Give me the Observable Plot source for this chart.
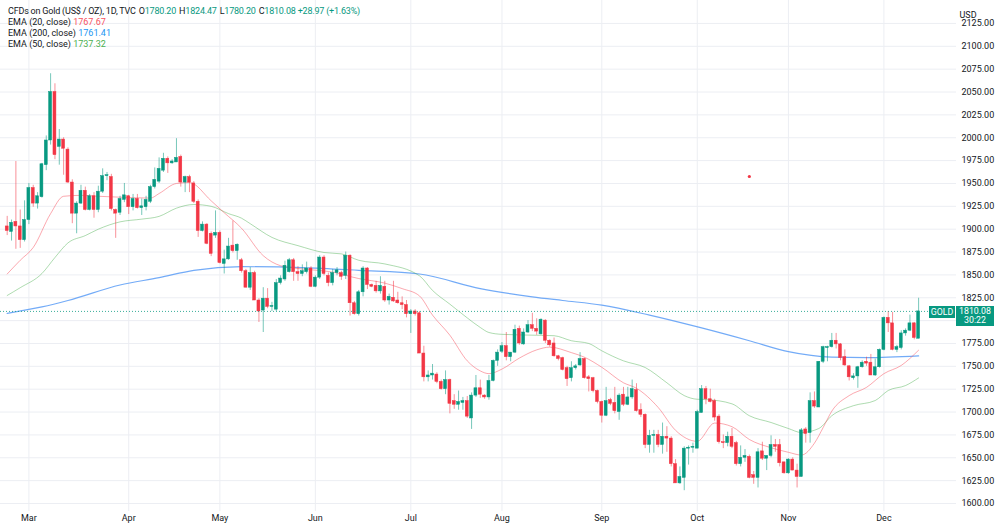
<!DOCTYPE html>
<html>
<head>
<meta charset="utf-8">
<script src="https://cdn.jsdelivr.net/npm/d3@7"></script>
<script src="https://cdn.jsdelivr.net/npm/@observablehq/plot@0.6"></script>
<style>
html,body{margin:0;padding:0;background:#fff;}
#wrap{position:relative;width:1000px;height:532px;overflow:hidden;font-family:Roboto,"Noto Sans",sans-serif;}
.lg{position:absolute;left:8px;font-size:9px;line-height:11px;color:#131722;white-space:pre;}
.lg.t{letter-spacing:-0.2px}
.lg .k{margin-left:3px}
.up{color:#089981}
.box{position:absolute;background:#089981;color:#fff;font-size:8.8px;text-align:center;}
</style>
</head>
<body>
<div id="wrap"></div>
<script>
// ---- data ----
const startDate = "2022-02-22";
const endDate = "2022-12-13";
// [open, high, low, close] for each trading day (weekdays) from startDate to endDate
const candles = [
[1903,1914,1893,1898],[1897,1910,1887,1907],[1908,1974,1878,1903],[1903,1921,1879,1888],[1888,1931,1886,1910],
[1910,1950,1905,1945],[1945,1948,1924,1928],[1928,1940,1922,1936],[1935,1972,1934,1971],[1970,2002,1964,1997],
[1997,2070,1992,2050],[2050,2059,1976,1981],[1990,2009,1970,1998],[1998,2000,1959,1988],[1987,1989,1950,1951],
[1951,1954,1906,1917],[1917,1930,1895,1928],[1928,1948,1927,1942],[1942,1946,1920,1921],[1921,1938,1920,1936],
[1936,1940,1912,1921],[1921,1947,1918,1941],[1941,1966,1939,1958],[1958,1962,1953,1959],[1957,1960,1920,1922],
[1921,1922,1890,1917],[1918,1936,1915,1933],[1932,1950,1929,1937],[1936,1937,1916,1924],[1924,1938,1920,1933],
[1933,1938,1922,1923],[1923,1933,1915,1925],[1924,1936,1920,1932],[1930,1948,1928,1946],[1946,1967,1944,1954],
[1952,1978,1950,1966],[1964,1983,1962,1977],[1977,1979,1961,1972],[1972,1976,1971,1974],[1973,1999,1973,1978],
[1979,1981,1946,1951],[1951,1958,1940,1957],[1957,1959,1940,1951],[1950,1952,1928,1930],[1930,1932,1891,1898],
[1898,1908,1897,1905],[1905,1906,1883,1884],[1895,1897,1870,1873],[1893,1920,1890,1896],[1896,1898,1862,1863],
[1862,1877,1851,1867],[1867,1890,1866,1881],[1882,1909,1874,1876],[1876,1884,1866,1883],[1866,1868,1852,1854],
[1854,1856,1836,1836],[1836,1858,1833,1852],[1852,1854,1822,1822],[1822,1824,1798,1810],[1811,1836,1787,1824],
[1824,1835,1813,1815],[1815,1820,1810,1816],[1812,1845,1810,1841],[1841,1849,1839,1846],[1845,1865,1843,1860],
[1853,1868,1852,1866],[1866,1868,1843,1853],[1853,1859,1843,1851],[1851,1861,1848,1854],[1853,1864,1851,1857],
[1857,1859,1836,1837],[1837,1849,1836,1847],[1847,1871,1845,1869],[1869,1871,1849,1851],[1849,1852,1837,1841],
[1841,1856,1838,1852],[1852,1858,1849,1855],[1852,1854,1844,1848],[1849,1875,1845,1871],[1871,1872,1805,1819],
[1819,1821,1806,1807],[1807,1833,1805,1831],[1831,1859,1826,1857],[1857,1858,1834,1839],[1839,1840,1836,1837],
[1838,1843,1830,1832],[1832,1848,1829,1838],[1837,1843,1820,1822],[1822,1829,1817,1826],[1825,1843,1820,1821],
[1822,1831,1818,1819],[1819,1826,1812,1817],[1817,1822,1803,1807],[1807,1812,1786,1810],[1810,1812,1805,1807],
[1808,1810,1764,1764],[1764,1772,1733,1738],[1738,1745,1733,1740],[1740,1752,1735,1742],[1741,1743,1731,1733],
[1733,1735,1724,1725],[1725,1745,1719,1735],[1735,1736,1698,1709],[1712,1719,1703,1708],[1708,1723,1702,1711],
[1710,1716,1702,1712],[1712,1717,1693,1695],[1693,1721,1681,1718],[1718,1740,1716,1726],[1726,1735,1715,1719],
[1718,1719,1714,1716],[1716,1740,1713,1734],[1734,1757,1733,1756],[1756,1768,1750,1765],[1766,1776,1764,1772],
[1772,1787,1756,1760],[1760,1765,1755,1765],[1765,1795,1764,1790],[1791,1794,1773,1775],[1774,1791,1773,1787],
[1787,1800,1786,1795],[1795,1808,1788,1791],[1791,1802,1784,1788],[1785,1802,1784,1801],[1800,1801,1775,1778],
[1778,1779,1771,1773],[1775,1781,1760,1761],[1761,1762,1756,1758],[1759,1760,1745,1746],[1748,1750,1728,1736],
[1737,1755,1733,1748],[1748,1752,1746,1750],[1751,1765,1750,1758],[1758,1759,1736,1737],[1738,1740,1722,1736],
[1737,1738,1721,1723],[1723,1724,1709,1711],[1711,1712,1688,1696],[1696,1727,1695,1712],[1713,1715,1707,1709],
[1710,1727,1698,1701],[1700,1720,1691,1718],[1719,1727,1706,1708],[1708,1727,1707,1716],[1716,1735,1714,1725],
[1724,1731,1700,1701],[1702,1709,1694,1697],[1697,1698,1660,1664],[1664,1680,1655,1674],[1674,1680,1655,1675],
[1675,1680,1661,1664],[1664,1688,1654,1673],[1673,1684,1656,1671],[1671,1673,1640,1643],[1643,1648,1622,1622],
[1622,1640,1621,1629],[1628,1662,1614,1660],[1660,1663,1642,1661],[1661,1666,1655,1662],[1660,1702,1660,1700],
[1699,1729,1699,1725],[1725,1728,1708,1714],[1714,1725,1710,1711],[1712,1714,1690,1694],[1695,1697,1665,1667],
[1667,1675,1660,1666],[1666,1678,1662,1673],[1673,1682,1660,1662],[1666,1668,1641,1643],[1643,1663,1640,1650],
[1650,1659,1645,1652],[1651,1653,1627,1628],[1631,1635,1621,1628],[1628,1660,1617,1656],[1657,1667,1647,1649],
[1649,1652,1636,1652],[1652,1674,1650,1664],[1664,1670,1656,1662],[1664,1670,1640,1644],[1645,1645,1632,1633],
[1633,1649,1632,1648],[1648,1650,1636,1636],[1636,1643,1617,1629],[1629,1682,1629,1680],[1681,1683,1666,1676],
[1677,1721,1666,1712],[1712,1722,1704,1706],[1705,1755,1705,1755],[1755,1772,1753,1771],[1770,1772,1755,1771],
[1771,1786,1770,1778],[1778,1786,1769,1774],[1774,1775,1756,1759],[1760,1768,1750,1751],[1750,1751,1734,1738],
[1737,1742,1735,1739],[1739,1750,1726,1749],[1749,1756,1748,1754],[1755,1760,1750,1753],[1754,1763,1740,1740],
[1740,1758,1739,1749],[1749,1769,1748,1768],[1768,1804,1767,1803],[1803,1810,1787,1797],[1797,1809,1767,1768],
[1768,1773,1765,1771],[1770,1789,1768,1786],[1786,1791,1783,1789],[1789,1806,1788,1797],[1797,1798,1779,1781],
[1780.20,1824.47,1780.20,1810.08]
];
// EMA readings [date, value]
const ema20 = [
["2022-02-22",1851],["2022-02-25",1866],["2022-03-02",1880],["2022-03-08",1917],["2022-03-11",1936],
["2022-03-17",1937],["2022-03-23",1936],["2022-03-30",1935],["2022-04-08",1934],["2022-04-12",1939],
["2022-04-18",1950],["2022-04-21",1951],["2022-04-28",1931],["2022-05-03",1918],["2022-05-09",1901],
["2022-05-16",1871],["2022-05-20",1860],["2022-05-26",1857],["2022-06-07",1853],["2022-06-15",1846],
["2022-06-23",1841],["2022-06-29",1835],["2022-07-05",1827],["2022-07-08",1806],["2022-07-14",1784],
["2022-07-20",1756],["2022-07-25",1745],["2022-07-27",1742],["2022-08-01",1747],["2022-08-05",1759],
["2022-08-11",1768],["2022-08-16",1771],["2022-08-23",1765],["2022-08-26",1760],["2022-09-01",1749],
["2022-09-08",1732],["2022-09-13",1726],["2022-09-20",1705],["2022-09-26",1680],["2022-10-03",1668],
["2022-10-07",1688],["2022-10-13",1684],["2022-10-19",1670],["2022-10-26",1661],["2022-11-01",1656],
["2022-11-04",1653],["2022-11-09",1666],["2022-11-11",1683],["2022-11-15",1701],["2022-11-21",1718],
["2022-11-25",1727],["2022-12-01",1742],["2022-12-07",1751],["2022-12-13",1767.67]
];
const ema50 = [
["2022-02-22",1827.5],["2022-02-25",1836],["2022-03-04",1851.5],["2022-03-09",1869],["2022-03-14",1885],
["2022-03-18",1893],["2022-03-23",1900],["2022-03-30",1908],["2022-04-06",1911],["2022-04-12",1914],
["2022-04-18",1923],["2022-04-22",1927],["2022-04-28",1925],["2022-05-04",1917],["2022-05-09",1912],
["2022-05-11",1906],["2022-05-18",1891],["2022-05-26",1882],["2022-06-03",1874.5],["2022-06-09",1873],
["2022-06-15",1866],["2022-06-23",1862],["2022-07-05",1849],["2022-07-08",1833],["2022-07-14",1818],
["2022-07-20",1803],["2022-07-25",1792.5],["2022-07-27",1787],["2022-08-01",1785],["2022-08-11",1784],
["2022-08-17",1783.5],["2022-08-23",1778],["2022-08-29",1775],["2022-09-01",1767],["2022-09-08",1756],
["2022-09-15",1748.7],["2022-09-22",1732],["2022-09-28",1718],["2022-10-03",1714],["2022-10-05",1713.7],
["2022-10-13",1709],["2022-10-19",1696],["2022-10-26",1688.6],["2022-11-01",1682],["2022-11-04",1677.6],
["2022-11-10",1682],["2022-11-15",1696],["2022-11-22",1707],["2022-11-29",1712.6],["2022-12-02",1723.6],
["2022-12-08",1729],["2022-12-13",1737.32]
];
const ema200 = [
["2022-02-22",1808],["2022-03-04",1815],["2022-03-14",1822],["2022-03-30",1839],["2022-04-12",1847],
["2022-04-22",1855],["2022-05-09",1859],["2022-05-27",1858],["2022-06-15",1855],["2022-07-05",1851],
["2022-07-25",1835],["2022-08-10",1826],["2022-08-19",1822],["2022-09-01",1817],["2022-09-16",1806],
["2022-10-04",1792],["2022-10-19",1778],["2022-11-01",1766],["2022-11-15",1760],["2022-11-25",1759.5],
["2022-12-13",1761.41]
];
const monthStarts = ["2022-03-01","2022-04-01","2022-05-02","2022-06-01","2022-07-01","2022-08-01","2022-09-01","2022-10-03","2022-11-01","2022-12-01"];
const monthLabels = ["Mar","Apr","May","Jun","Jul","Aug","Sep","Oct","Nov","Dec"];
const priceTicks = [1600,1625,1650,1675,1700,1725,1750,1775,1800,1825,1850,1875,1900,1925,1950,1975,2000,2025,2050,2075,2100,2125];
const alerts = [["2022-10-19",1957.6]];
const symbolName = "GOLD";
const countdown = "30:22";
const legendTitle = "CFDs on Gold (US$ / OZ), 1D, TVC";
const change = "+28.97 (+1.63%)";

// ---- build ----
const fmt = d3.utcFormat("%Y-%m-%d");
const days = d3.utcDay.range(new Date(startDate + "T00:00Z"), d3.utcDay.offset(new Date(endDate + "T00:00Z"), 1))
  .filter(d => d.getUTCDay() !== 0 && d.getUTCDay() !== 6);
const idx = new Map(days.map((d, i) => [fmt(d), i]));
const bars = candles.map((c, i) => ({i, open: c[0], high: c[1], low: c[2], close: c[3], up: c[3] >= c[0]}));
const pts = arr => arr.map(([d, v]) => ({i: idx.get(d), v}));
const UP = "#089981", DN = "#f23645";
const last = bars[bars.length - 1];
// axis labels hidden behind the last-price box (as in the reference)
const shownTicks = priceTicks.filter(t => Math.abs(t - last.close) * 0.9143 > 12);

const chart = Plot.plot({
  width: 1000, height: 532,
  marginLeft: 0, marginRight: 44, marginTop: 0, marginBottom: 21,
  x: {type: "linear", domain: [-1.544, 218.73], axis: null},
  y: {type: "linear", domain: [1591.25, 2150.1], axis: null},
  style: {fontFamily: "Roboto, sans-serif", fontSize: "9px", color: "#131722", background: "#fff", overflow: "visible"},
  marks: [
    Plot.ruleY(priceTicks, {y: d => d, stroke: "#eceef3"}),
    Plot.ruleX(monthStarts, {x: d => idx.get(d), stroke: "#eceef3"}),
    Plot.line(pts(ema200), {x: "i", y: "v", stroke: "#5b9cf6", strokeWidth: 1.2, strokeOpacity: 0.85, curve: "monotone-x"}),
    Plot.line(pts(ema50), {x: "i", y: "v", stroke: "#4caf50", strokeWidth: 1, strokeOpacity: 0.45, curve: "monotone-x"}),
    Plot.line(pts(ema20), {x: "i", y: "v", stroke: "#f7525f", strokeWidth: 1, strokeOpacity: 0.5, curve: "monotone-x"}),
    Plot.ruleX(bars, {x: "i", y1: "low", y2: "high", stroke: d => d.up ? UP : DN, strokeOpacity: 0.55}),
    Plot.rect(bars, {x1: d => d.i - 0.34, x2: d => d.i + 0.34, y1: "open", y2: "close",
      fill: d => d.up ? UP : DN, stroke: d => d.up ? UP : DN, strokeWidth: 0.5}),
    Plot.ruleY([last.close], {y: d => d, stroke: UP, strokeDasharray: "1,2", strokeOpacity: 0.8}),
    Plot.dot(alerts, {x: d => idx.get(d[0]), y: d => d[1], r: 1.6, fill: DN}),
    Plot.text(shownTicks, {y: d => d, frameAnchor: "right", dx: 5, textAnchor: "start", text: d => d.toFixed(2), fill: "#131722"}),
    Plot.text(monthStarts, {x: d => idx.get(d), frameAnchor: "bottom", dy: 9, text: (d, j) => monthLabels[j], fill: "#131722"}),
    Plot.text(["USD"], {frameAnchor: "top-right", dx: 3, dy: 11, textAnchor: "start", text: d => d, fill: "#131722"})
  ]
});
const wrap = document.getElementById("wrap");
wrap.appendChild(chart);

// legend overlay
const f2 = v => v.toFixed(2);
const lines = [
  `${legendTitle}<span class="k">O</span><span class="up">${f2(last.open)}</span><span class="k">H</span><span class="up">${f2(last.high)}</span><span class="k">L</span><span class="up">${f2(last.low)}</span><span class="k">C</span><span class="up">${f2(last.close)} ${change}</span>`,
  `EMA (20, close) <span style="color:#f7525f">${f2(ema20[ema20.length-1][1])}</span>`,
  `EMA (200, close) <span style="color:#2196f3">${f2(ema200[ema200.length-1][1])}</span>`,
  `EMA (50, close) <span style="color:#4caf50">${f2(ema50[ema50.length-1][1])}</span>`
];
lines.forEach((h, k) => {
  const d = document.createElement("div");
  d.className = k === 0 ? "lg t" : "lg";
  d.style.top = (6 + 11 * k) + "px";
  d.innerHTML = h;
  wrap.appendChild(d);
});
// last price labels
const yPos = chart.scale("y").apply(last.close);
const g = document.createElement("div");
g.className = "box";
Object.assign(g.style, {left: "929px", width: "26px", top: (yPos - 5) + "px", height: "12px", lineHeight: "12px"});
g.textContent = symbolName;
wrap.appendChild(g);
const p = document.createElement("div");
p.className = "box";
Object.assign(p.style, {left: "956px", width: "38px", top: (yPos - 5) + "px", height: "20px", lineHeight: "9.5px", paddingTop: "1px", boxSizing: "border-box"});
p.innerHTML = `${f2(last.close)}<br>${countdown}`;
wrap.appendChild(p);
</script>
</body>
</html>
